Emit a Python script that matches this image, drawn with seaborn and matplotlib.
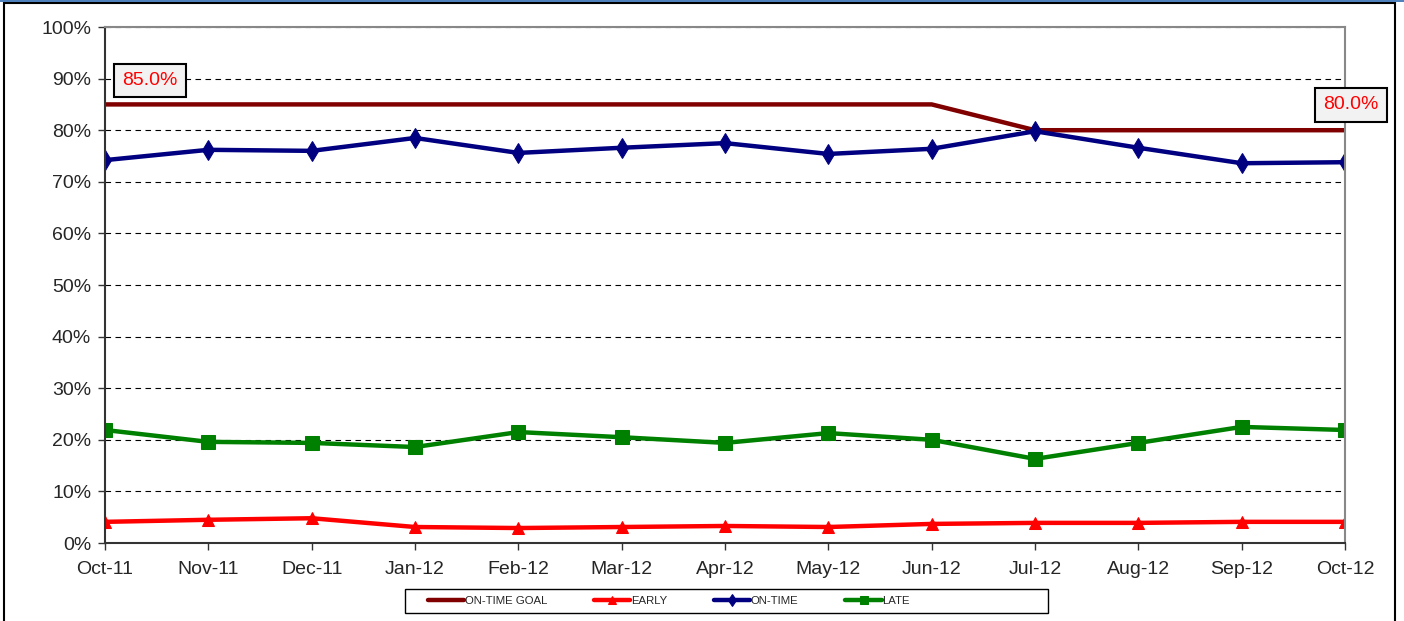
import pandas as pd
import matplotlib.pyplot as plt
import seaborn as sns
from matplotlib.patches import Rectangle
from matplotlib.ticker import PercentFormatter

# --- DATOS ---
meses = ['Oct-11', 'Nov-11', 'Dec-11', 'Jan-12', 'Feb-12', 'Mar-12', 'Apr-12',
         'May-12', 'Jun-12', 'Jul-12', 'Aug-12', 'Sep-12', 'Oct-12']
goal = [85, 85, 85, 85, 85, 85, 85, 85, 85, 80, 80, 80, 80]
early = [4.1, 4.5, 4.8, 3.1, 2.9, 3.1, 3.3, 3.1, 3.7, 3.9, 3.9, 4.1, 4.1]
on_time = [74.2, 76.2, 76.0, 78.5, 75.6, 76.6, 77.5, 75.4, 76.4, 79.8, 76.6, 73.6, 73.8]
late = [21.9, 19.6, 19.4, 18.6, 21.5, 20.5, 19.4, 21.3, 20.0, 16.3, 19.4, 22.5, 21.9]

df = pd.DataFrame({'mes': range(len(meses)), 'goal': goal, 'early': early,
                   'on_time': on_time, 'late': late})

sns.set_style('white')
plt.rcParams['font.family'] = ['Liberation Sans', 'DejaVu Sans']

fig = plt.figure(figsize=(14.04, 6.21), dpi=100)
ax = fig.add_axes([0.0748, 0.1256, 0.8832, 0.8309])

series = [
    ('goal', 'ON-TIME GOAL', '#800000', None, 0),
    ('early', 'EARLY', '#ff0000', '^', 9),
    ('on_time', 'ON-TIME', '#000080', 'd', 10),
    ('late', 'LATE', '#008000', 's', 10),
]
for col, nombre, color, marker, ms in series:
    sns.lineplot(data=df, x='mes', y=col, ax=ax, color=color, lw=3.2,
                 marker=marker, markersize=ms, markeredgecolor=color,
                 label=nombre, legend=False)

# --- EJES ---
ax.set_xlim(0, len(meses) - 1)
ax.set_ylim(0, 100)
ax.set_xticks(range(len(meses)))
ax.set_xticklabels(meses)
ax.set_yticks(range(0, 101, 10))
ax.yaxis.set_major_formatter(PercentFormatter(decimals=0))
ax.set_xlabel('')
ax.set_ylabel('')
ax.tick_params(axis='both', labelsize=14, length=5, width=1, color='#333333',
               direction='out', bottom=True, left=True)
ax.tick_params(axis='x', pad=8)
ax.tick_params(axis='y', pad=5)
ax.grid(axis='y', color='black', linestyle=(0, (5, 4)), lw=0.8)
ax.grid(axis='x', visible=False)
for lado in ['left', 'bottom']:
    ax.spines[lado].set_color('#333333')
    ax.spines[lado].set_linewidth(1.5)
for lado in ['top', 'right']:
    ax.spines[lado].set_color('#888888')
    ax.spines[lado].set_linewidth(1.5)

# --- ETIQUETAS DE META ---
caja = dict(boxstyle='square,pad=0.42', facecolor='#f2f2f2', edgecolor='black', lw=1.5)
ax.text(0.435, 89.6, f'{goal[0]:.1f}%', color='red', fontsize=14,
        ha='center', va='center', bbox=caja)
ax.text(12.06, 84.9, f'{goal[-1]:.1f}%', color='red', fontsize=14,
        ha='center', va='center', bbox=caja, clip_on=False)

# --- LEYENDA ---
handles, labels = ax.get_legend_handles_labels()
leg = fig.legend(handles, labels, loc='center left', bbox_to_anchor=(0.3048, 0.0322),
                 ncol=4, fontsize=8.2, frameon=False,
                 handlelength=3.2, handletextpad=0.05, columnspacing=4.1,
                 borderpad=0, borderaxespad=0, markerscale=0.6)
# marco de la leyenda (más ancho que las entradas, como en el original)
fig.patches.append(Rectangle((405 / 1404, 1 - 613 / 621), 643 / 1404, 24 / 621,
                             transform=fig.transFigure, fill=False,
                             edgecolor='black', lw=1.0))

# --- BORDE DE LA FIGURA ---
fig.patches.append(Rectangle((0.0025, -0.01), 0.991, 1.005, transform=fig.transFigure,
                             fill=False, edgecolor='black', lw=1.5))
fig.patches.append(Rectangle((0, 0.997), 1, 0.003, transform=fig.transFigure,
                             fill=True, facecolor='#4f81bd', edgecolor='none'))

fig.savefig('out.png', dpi=100)
